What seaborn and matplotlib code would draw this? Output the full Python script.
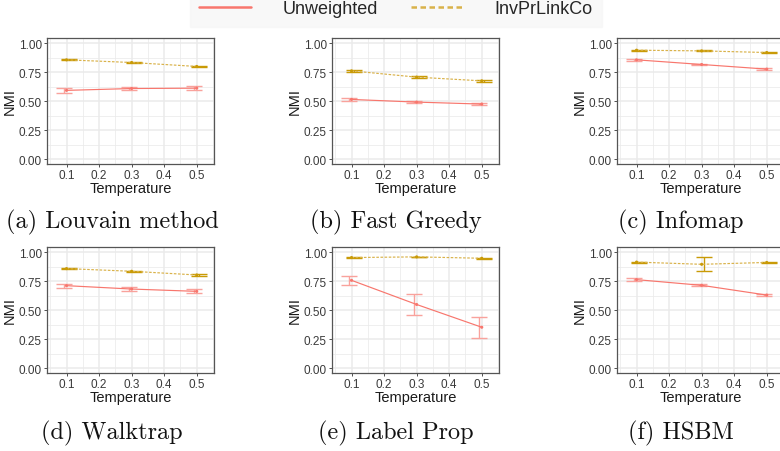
import numpy as np
import pandas as pd
import matplotlib
matplotlib.use("Agg")
import matplotlib.pyplot as plt
from matplotlib.lines import Line2D
from matplotlib.ticker import FixedLocator, FormatStrFormatter
import seaborn as sns

# ---- data -------------------------------------------------------------
temperature = [0.1, 0.3, 0.5]
methods = ["Unweighted", "InvPrLinkCo"]
panels = ["(a) Louvain method", "(b) Fast Greedy", "(c) Infomap",
          "(d) Walktrap", "(e) Label Prop", "(f) HSBM"]

unweighted_mean = [
    [0.594, 0.610, 0.613],
    [0.516, 0.493, 0.476],
    [0.857, 0.817, 0.777],
    [0.712, 0.683, 0.663],
    [0.758, 0.550, 0.354],
    [0.764, 0.715, 0.631],
]
unweighted_err = [
    [0.020, 0.013, 0.016],
    [0.010, 0.008, 0.009],
    [0.008, 0.008, 0.008],
    [0.016, 0.014, 0.017],
    [0.040, 0.089, 0.089],
    [0.012, 0.010, 0.010],
]
inv_mean = [
    [0.857, 0.834, 0.800],
    [0.762, 0.708, 0.676],
    [0.940, 0.934, 0.920],
    [0.859, 0.836, 0.804],
    [0.954, 0.960, 0.948],
    [0.915, 0.896, 0.912],
]
inv_err = [
    [0.004, 0.004, 0.005],
    [0.006, 0.006, 0.006],
    [0.004, 0.004, 0.005],
    [0.005, 0.005, 0.005],
    [0.004, 0.003, 0.004],
    [0.005, 0.060, 0.006],
]

# long table: one row per (panel, method, temperature)
rows = []
for p, name in enumerate(panels):
    for m, (means, errs) in enumerate([(unweighted_mean, unweighted_err),
                                       (inv_mean, inv_err)]):
        for t, mu, e in zip(temperature, means[p], errs[p]):
            rows.append({"panel": name, "Method": methods[m],
                         "Temperature": t, "NMI": mu, "err": e})
df = pd.DataFrame(rows)

# ---- style ------------------------------------------------------------
sns.set_theme(style="white")
plt.rcParams["font.family"] = ["Liberation Sans", "DejaVu Sans"]

RED = "#F8766D"
RED_BAR = "#F9A29C"
GOLD = "#C99A06"
GOLD_LINE = "#D9B24A"
palette = {"Unweighted": RED, "InvPrLinkCo": GOLD_LINE}
bar_colors = {"Unweighted": RED_BAR, "InvPrLinkCo": GOLD}
dodge = {"Unweighted": -0.008, "InvPrLinkCo": 0.008}

fig = plt.figure(figsize=(7.8, 4.52), dpi=100)
W, H = 780.0, 452.0

col_left = [47, 332, 617]
col_center = [112, 396, 681]
row_top = [39, 248]
ax_w, ax_h = 167, 126
caption_y = [222, 433]

for i, name in enumerate(panels):
    r, c = divmod(i, 3)
    left = col_left[c] / W
    bottom = 1 - (row_top[r] + ax_h) / H
    ax = fig.add_axes([left, bottom, ax_w / W, ax_h / H])
    sub = df[df["panel"] == name]

    # error bars (slightly dodged) behind the lines
    for meth in methods:
        s = sub[sub["Method"] == meth]
        ax.errorbar(s["Temperature"] + dodge[meth], s["NMI"], yerr=s["err"],
                    fmt="none", ecolor=bar_colors[meth], elinewidth=1.0,
                    capsize=5.8, capthick=1.0, zorder=3)

    sns.lineplot(data=sub, x="Temperature", y="NMI", hue="Method",
                 style="Method", hue_order=methods, style_order=methods,
                 palette=palette,
                 dashes={"Unweighted": "", "InvPrLinkCo": (2.2, 1.3)},
                 linewidth=0.85, estimator=None, legend=False, ax=ax, zorder=4)
    sns.scatterplot(data=sub, x="Temperature", y="NMI", hue="Method",
                    hue_order=methods, palette={"Unweighted": RED, "InvPrLinkCo": GOLD},
                    s=5, linewidth=0, legend=False, ax=ax, zorder=5)

    ax.set_xlim(0.04, 0.553)
    ax.set_ylim(-0.04, 1.045)
    ax.xaxis.set_major_locator(FixedLocator([0.1, 0.2, 0.3, 0.4, 0.5]))
    ax.xaxis.set_minor_locator(FixedLocator([0.05, 0.15, 0.25, 0.35, 0.45, 0.55]))
    ax.yaxis.set_major_locator(FixedLocator([0, 0.25, 0.5, 0.75, 1.0]))
    ax.yaxis.set_minor_locator(FixedLocator([0.125, 0.375, 0.625, 0.875]))
    ax.xaxis.set_major_formatter(FormatStrFormatter("%.1f"))
    ax.yaxis.set_major_formatter(FormatStrFormatter("%.2f"))
    ax.grid(True, which="major", color="#EBEBEB", linewidth=1.1, zorder=0)
    ax.grid(True, which="minor", color="#EBEBEB", linewidth=0.55, zorder=0)
    ax.set_axisbelow(True)
    for sp in ax.spines.values():
        sp.set_color("#555555")
        sp.set_linewidth(0.9)
    ax.tick_params(axis="both", which="major", length=2.5, width=0.6,
                   color="#333333", labelcolor="#3A3A3A", labelsize=8.5, pad=1.2,
                   bottom=True, left=True)
    ax.tick_params(axis="both", which="minor", length=0)
    ax.set_xlabel("Temperature", fontsize=10.5, labelpad=0.2, color="#1A1A1A")
    ax.set_ylabel("NMI", fontsize=10.5, labelpad=1.5, color="#1A1A1A")

    fig.text(col_center[c] / W, 1 - caption_y[r] / H, name,
             family="cmr10", fontsize=17.5, ha="center", va="center", color="#111111")

# shared legend across the top
handles = [Line2D([], [], color=RED, lw=1.8),
           Line2D([], [], color=GOLD_LINE, lw=1.8, linestyle=(0, (2.2, 1.4)))]
leg = fig.legend(handles, methods, loc="center", ncol=2,
                 bbox_to_anchor=(396 / W, 1 - 10 / H),
                 fontsize=13, frameon=True, fancybox=False,
                 handlelength=2.9, handletextpad=1.75, columnspacing=1.8,
                 borderpad=0.5)
leg.get_frame().set_facecolor("#F7F7F7")
leg.get_frame().set_edgecolor("#F7F7F7")

fig.savefig("out.png", dpi=100)
